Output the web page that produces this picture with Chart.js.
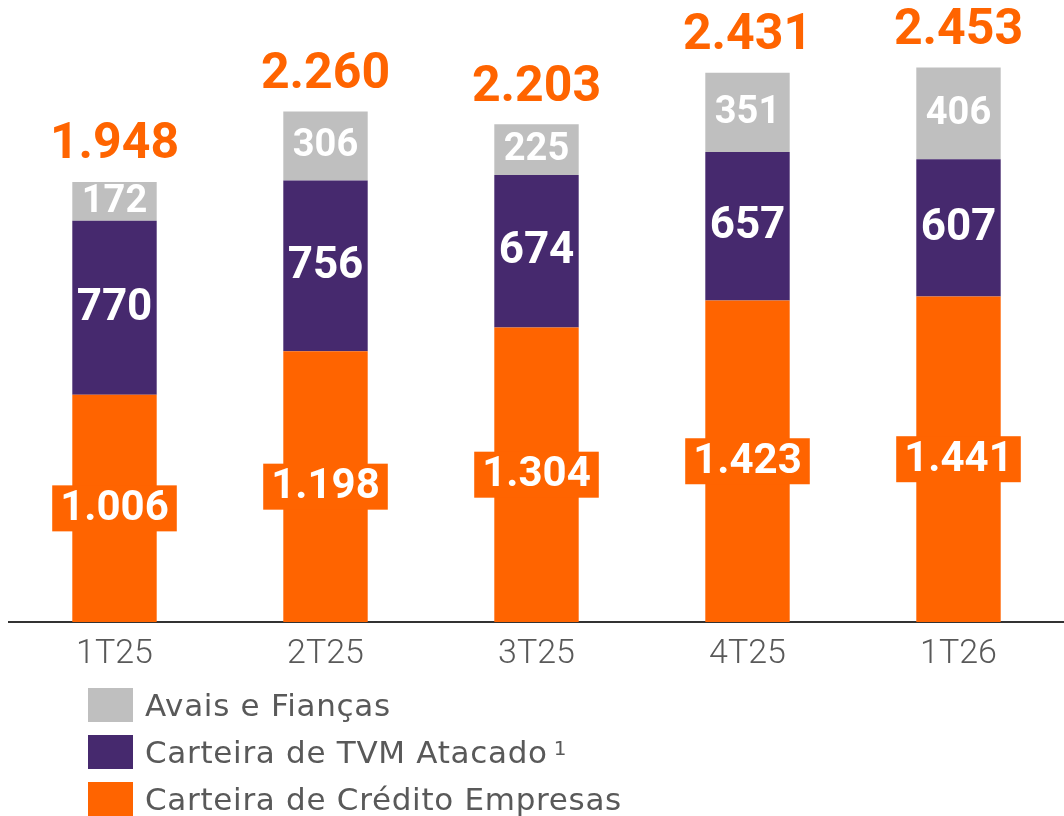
<!DOCTYPE html>
<html>
<head>
<meta charset="utf-8">
<script src="https://cdn.jsdelivr.net/npm/chart.js@4"></script>
<style>
  html, body { margin: 0; padding: 0; background: #fff; }
  #wrap { position: relative; width: 1064px; height: 816px; }
  #legend { position: absolute; left: 88px; top: 688px; font-family: "DejaVu Sans", sans-serif; color: #595959; }
  .row { display: flex; align-items: center; height: 34px; margin-bottom: 13px; font-size: 31px; letter-spacing: 0.7px; white-space: nowrap; }
  .box { width: 45px; height: 34px; margin-right: 12px; flex: none; }
  sup { font-size: 20px; position: relative; top: -8px; margin-left: 6px; vertical-align: baseline; }
</style>
</head>
<body>
<div id="wrap">
  <canvas id="myChart" width="1064" height="816"></canvas>
  <div id="legend"></div>
</div>
<script>
// Data
const categories = ['1T25', '2T25', '3T25', '4T25', '1T26'];
const creditoEmpresas = [1006, 1198, 1304, 1423, 1441];
const tvmAtacado = [770, 756, 674, 657, 607];
const avaisFiancas = [172, 306, 225, 351, 406];
const totals = [1948, 2260, 2203, 2431, 2453];

const ORANGE = '#FF6400';
const PURPLE = '#46296E';
const GRAY = '#BFBFBF';

// 1948 -> "1.948"
function fmt(v) {
    return String(v).replace(/\B(?=(\d{3})+(?!\d))/g, '.');
}

// labels inside the bars and totals on top
const barLabels = {
    id: 'barLabels',
    afterDatasetsDraw(chart) {
        const ctx = chart.ctx;
        ctx.save();
        ctx.textAlign = 'center';
        ctx.textBaseline = 'middle';

        chart.data.datasets.forEach((ds, i) => {
            const meta = chart.getDatasetMeta(i);
            meta.data.forEach((bar, j) => {
                const cy = (bar.y + bar.base) / 2;
                const txt = fmt(ds.data[j]);
                ctx.font = `bold ${ds.labelSize}px Roboto, sans-serif`;
                if (ds.labelBox) {
                    const w = ctx.measureText(txt).width + 16;
                    ctx.fillStyle = ds.backgroundColor;
                    ctx.fillRect(bar.x - w / 2, cy - 23, w, 46);
                }
                ctx.fillStyle = '#fff';
                ctx.fillText(txt, bar.x, cy + 1);
            });
        });

        // totals
        const top = chart.getDatasetMeta(chart.data.datasets.length - 1);
        ctx.font = 'bold 50px Roboto, sans-serif';
        ctx.fillStyle = ORANGE;
        top.data.forEach((bar, j) => {
            ctx.fillText(fmt(totals[j]), bar.x, bar.y - 36);
        });
        ctx.restore();
    }
};

const ctx = document.getElementById('myChart');

const chart = new Chart(ctx, {
    type: 'bar',
    data: {
        labels: categories,
        datasets: [{
            label: 'Carteira de Crédito Empresas',
            data: creditoEmpresas,
            backgroundColor: ORANGE,
            labelSize: 42,
            labelBox: true
        }, {
            label: 'Carteira de TVM Atacado',
            data: tvmAtacado,
            backgroundColor: PURPLE,
            labelSize: 44
        }, {
            label: 'Avais e Fianças',
            data: avaisFiancas,
            backgroundColor: GRAY,
            labelSize: 38
        }]
    },
    options: {
        responsive: false,
        animation: false,
        devicePixelRatio: 1,
        layout: { padding: { left: 9, top: 12, right: 0, bottom: 0 } },
        datasets: {
            bar: { barPercentage: 0.4, categoryPercentage: 1.0 }
        },
        plugins: {
            legend: { display: false },
            tooltip: { enabled: false }
        },
        scales: {
            x: {
                stacked: true,
                grid: { display: false, drawTicks: false },
                border: { display: true, color: '#333333', width: 2 },
                ticks: {
                    color: '#595959',
                    padding: 12,
                    font: { family: 'Roboto, sans-serif', size: 34, weight: '300' }
                },
                afterFit(scale) { scale.height = 194; }
            },
            y: {
                stacked: true,
                display: false,
                min: 0,
                max: 2700
            }
        }
    },
    plugins: [barLabels]
});

// legend, top row first
const legendItems = [
    { label: 'Avais e Fianças', color: GRAY, sup: '' },
    { label: 'Carteira de TVM Atacado', color: PURPLE, sup: '1' },
    { label: 'Carteira de Crédito Empresas', color: ORANGE, sup: '' }
];
const legend = document.getElementById('legend');
legendItems.forEach(item => {
    const row = document.createElement('div');
    row.className = 'row';
    const box = document.createElement('div');
    box.className = 'box';
    box.style.background = item.color;
    const text = document.createElement('span');
    text.textContent = item.label;
    row.appendChild(box);
    row.appendChild(text);
    if (item.sup) {
        const s = document.createElement('sup');
        s.textContent = item.sup;
        text.appendChild(s);
    }
    legend.appendChild(row);
});
</script>
</body>
</html>
